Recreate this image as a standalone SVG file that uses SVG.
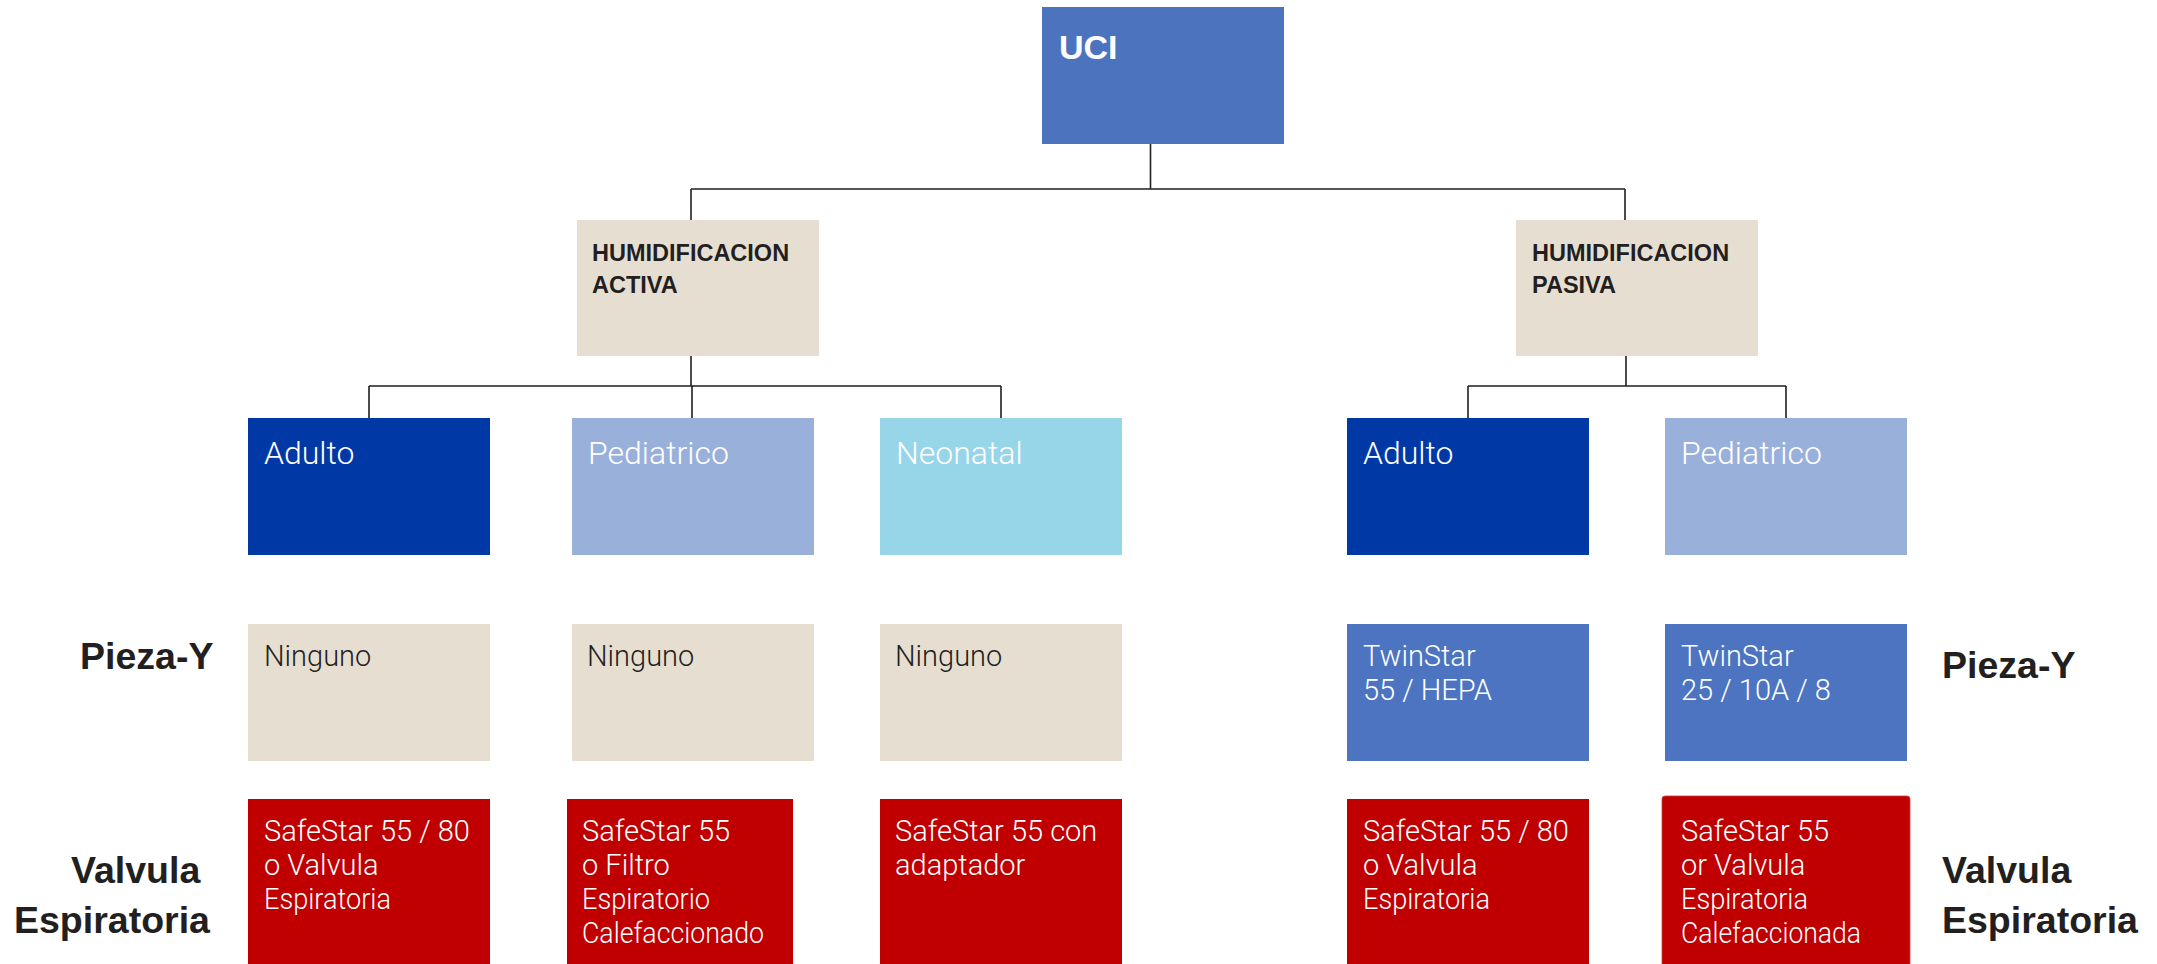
<svg xmlns="http://www.w3.org/2000/svg" width="2157" height="964" viewBox="0 0 2157 964">
<style>
.bg{fill:#ffffff}
.conn{fill:none;stroke:#231f20;stroke-width:1.6}
.uci{fill:#4c74be}
.beige{fill:#e7ded2}
.dblue{fill:#0039a6}
.lblue{fill:#99b0da}
.cyan{fill:#97d5e9}
.mblue{fill:#4c74c0}
.red{fill:#c00000}
.t-uci{font-family:"Liberation Sans",Arial,sans-serif;font-weight:bold;font-size:34px;fill:#ffffff}
.t-hum{font-family:"Liberation Sans",Arial,sans-serif;font-weight:bold;font-size:23.5px;fill:#231f20}
.t-cat{font-family:"Roboto","Liberation Sans",sans-serif;font-weight:300;font-size:32px;fill:#ffffff}
.t-item{font-family:"Roboto","Liberation Sans",sans-serif;font-weight:300;font-size:29px;fill:#ffffff}
.t-dark{fill:#231f20}
.t-lab{font-family:"Liberation Sans",Arial,sans-serif;font-weight:bold;font-size:37.5px;fill:#231f20}
</style>
<rect class="bg" x="0" y="0" width="2157" height="964"/>

<g id="connectors">
  <path class="conn" d="M1150.5 143 V189 M691 189 H1625 M691 189 V220 M1625 189 V220"/>
  <path class="conn" d="M691 355 V386 M369 386 H1001 M369 386 V418 M692 386 V418 M1001 386 V418"/>
  <path class="conn" d="M1626 355 V386 M1468 386 H1786 M1468 386 V418 M1786 386 V418"/>
</g>

<g id="uci">
  <rect class="uci" x="1042" y="7" width="242" height="137"/>
  <text class="t-uci" x="1059" y="59">UCI</text>
</g>

<g id="hum-activa">
  <rect class="beige" x="577" y="220" width="242" height="136"/>
  <text class="t-hum" x="592" y="261">HUMIDIFICACION</text>
  <text class="t-hum" x="592" y="293">ACTIVA</text>
</g>

<g id="hum-pasiva">
  <rect class="beige" x="1516" y="220" width="242" height="136"/>
  <text class="t-hum" x="1532" y="261">HUMIDIFICACION</text>
  <text class="t-hum" x="1532" y="293">PASIVA</text>
</g>

<g id="a-adulto">
  <rect class="dblue" x="248" y="418" width="242" height="137"/>
  <text class="t-cat" x="264" y="464">Adulto</text>
</g>
<g id="a-pediatrico">
  <rect class="lblue" x="572" y="418" width="242" height="137"/>
  <text class="t-cat" x="588" y="464">Pediatrico</text>
</g>
<g id="a-neonatal">
  <rect class="cyan" x="880" y="418" width="242" height="137"/>
  <text class="t-cat" x="896" y="464">Neonatal</text>
</g>
<g id="p-adulto">
  <rect class="dblue" x="1347" y="418" width="242" height="137"/>
  <text class="t-cat" x="1363" y="464">Adulto</text>
</g>
<g id="p-pediatrico">
  <rect class="lblue" x="1665" y="418" width="242" height="137"/>
  <text class="t-cat" x="1681" y="464">Pediatrico</text>
</g>

<g id="label-pieza-left">
  <text class="t-lab" x="80" y="669">Pieza-Y</text>
</g>
<g id="label-valvula-left">
  <text class="t-lab" x="71" y="883">Valvula</text>
  <text class="t-lab" x="14" y="933">Espiratoria</text>
</g>
<g id="label-pieza-right">
  <text class="t-lab" x="1942" y="678">Pieza-Y</text>
</g>
<g id="label-valvula-right">
  <text class="t-lab" x="1942" y="883">Valvula</text>
  <text class="t-lab" x="1942" y="933">Espiratoria</text>
</g>

<g id="y-a-adulto">
  <rect class="beige" x="248" y="624" width="242" height="137"/>
  <text class="t-item t-dark" x="264" y="666">Ninguno</text>
</g>
<g id="y-a-pediatrico">
  <rect class="beige" x="572" y="624" width="242" height="137"/>
  <text class="t-item t-dark" x="587" y="666">Ninguno</text>
</g>
<g id="y-a-neonatal">
  <rect class="beige" x="880" y="624" width="242" height="137"/>
  <text class="t-item t-dark" x="895" y="666">Ninguno</text>
</g>
<g id="y-p-adulto">
  <rect class="mblue" x="1347" y="624" width="242" height="137"/>
  <text class="t-item" x="1363" y="666">TwinStar</text>
  <text class="t-item" x="1363" y="700">55 / HEPA</text>
</g>
<g id="y-p-pediatrico">
  <rect class="mblue" x="1665" y="624" width="242" height="137"/>
  <text class="t-item" x="1681" y="666">TwinStar</text>
  <text class="t-item" x="1681" y="700">25 / 10A / 8</text>
</g>

<g id="v-a-adulto">
  <rect class="red" x="248" y="799" width="242" height="165"/>
  <text class="t-item" x="264" y="841">SafeStar 55 / 80</text>
  <text class="t-item" x="264" y="875">o Valvula</text>
  <text class="t-item" x="264" y="909" textLength="127" lengthAdjust="spacingAndGlyphs">Espiratoria</text>
</g>
<g id="v-a-pediatrico">
  <rect class="red" x="567" y="799" width="226" height="165"/>
  <text class="t-item" x="582" y="841">SafeStar 55</text>
  <text class="t-item" x="582" y="875">o Filtro</text>
  <text class="t-item" x="582" y="909" textLength="128" lengthAdjust="spacingAndGlyphs">Espiratorio</text>
  <text class="t-item" x="582" y="943" textLength="182" lengthAdjust="spacingAndGlyphs">Calefaccionado</text>
</g>
<g id="v-a-neonatal">
  <rect class="red" x="880" y="799" width="242" height="165"/>
  <text class="t-item" x="895" y="841">SafeStar 55 con</text>
  <text class="t-item" x="895" y="875">adaptador</text>
</g>
<g id="v-p-adulto">
  <rect class="red" x="1347" y="799" width="242" height="165"/>
  <text class="t-item" x="1363" y="841">SafeStar 55 / 80</text>
  <text class="t-item" x="1363" y="875">o Valvula</text>
  <text class="t-item" x="1363" y="909" textLength="127" lengthAdjust="spacingAndGlyphs">Espiratoria</text>
</g>
<g id="v-p-pediatrico">
  <rect class="red" x="1662" y="796" width="248" height="172" rx="3" stroke="#d04040" stroke-width="0.8"/>
  <text class="t-item" x="1681" y="841">SafeStar 55</text>
  <text class="t-item" x="1681" y="875">or Valvula</text>
  <text class="t-item" x="1681" y="909" textLength="127" lengthAdjust="spacingAndGlyphs">Espiratoria</text>
  <text class="t-item" x="1681" y="943" textLength="180" lengthAdjust="spacingAndGlyphs">Calefaccionada</text>
</g>
</svg>
